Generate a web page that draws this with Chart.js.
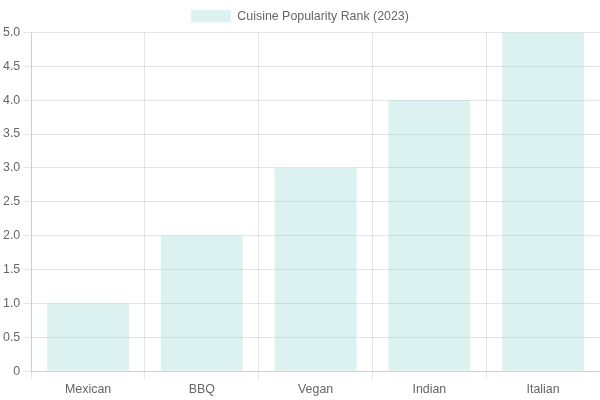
<!DOCTYPE html>
<html>
<head>
<meta charset="utf-8">
<script src="https://cdn.jsdelivr.net/npm/chart.js@4/dist/chart.umd.min.js"></script>
<style>
  html, body { margin: 0; padding: 0; background: #fff; }
  #wrap { width: 600px; height: 400px; }
</style>
</head>
<body>
<div id="wrap"><canvas id="chart"></canvas></div>
<script>
const cuisines = ['Mexican', 'BBQ', 'Vegan', 'Indian', 'Italian'];
const popularityRank = [1, 2, 3, 4, 5];

// text in the reference runs a touch wider than the 12px default
Chart.defaults.font.size = 12.4;

new Chart(document.getElementById('chart'), {
  type: 'bar',
  data: {
    labels: cuisines,
    datasets: [{
      label: 'Cuisine Popularity Rank (2023)',
      data: popularityRank,
      backgroundColor: 'rgba(75, 192, 180, 0.2)',
      borderWidth: 0
    }]
  },
  options: {
    responsive: true,
    maintainAspectRatio: false,
    animation: false,
    scales: {
      y: { beginAtZero: true, max: 5 }
    }
  }
});
</script>
</body>
</html>
